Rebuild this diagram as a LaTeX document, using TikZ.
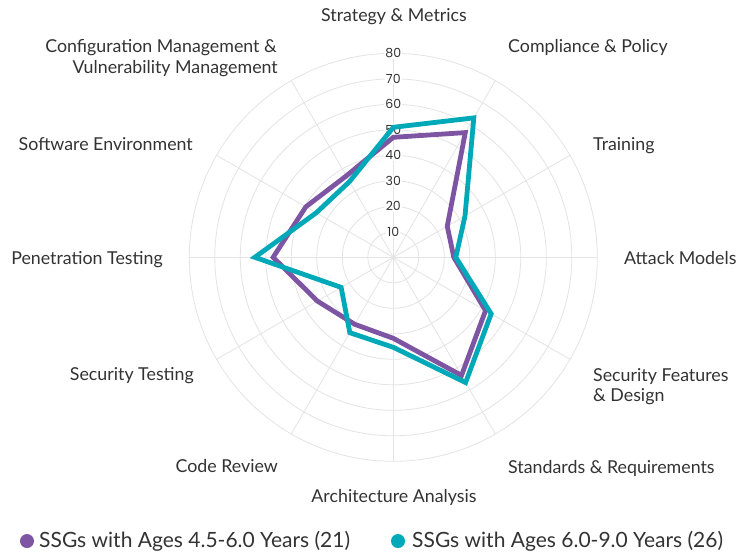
\documentclass[tikz,border=0pt]{standalone}
\usepackage{fontspec}
\setmainfont{Lato}
\newfontfamily\tickfont{Poppins}
\definecolor{gridc}{HTML}{E4E4E4}
\definecolor{purp}{HTML}{7E55A3}
\definecolor{teal}{HTML}{00A9B8}
\definecolor{txt}{HTML}{333333}
\tikzset{
  gridline/.style={draw=gridc, line width=0.8pt},
  series/.style={line width=4.8pt, line join=miter, miter limit=4},
  lab/.style={text=txt, font=\fontsize{17.8}{20}\selectfont, inner sep=0pt},
  tick/.style={text=txt, font=\tickfont\fontsize{12.5}{14}\selectfont, fill=white, inner sep=1pt},
  legtext/.style={text=txt, font=\fontsize{21}{24}\selectfont, inner sep=0pt, anchor=mid west},
}
\begin{document}
\begin{tikzpicture}[x=1pt,y=-1pt]
\useasboundingbox[fill=white] (0,0) rectangle (751,558);
\coordinate (O) at (393.3,257.3);
\begin{scope}[shift={(O)}]
  \foreach \k in {1,...,8} \draw[gridline] (0,0) circle[radius=\k*25.5];
  \foreach \a in {0,30,...,330} \draw[gridline] (0,0) -- (\a:204);
  \foreach \k in {1,...,8} {
    \pgfmathtruncatemacro{\v}{\k*10}
    \node[tick] (t\k) at (0,-\k*25.5) {\v};
  }
  % series 1 (purple)
  \draw[series, purp] (-90:120) -- (-60:144) -- (-30:62.3) -- (0:60.5) -- (30:106.5) -- (60:136.4) -- (90:81) -- (120:77.3) -- (150:87.6) -- (180:120.2) -- (210:101) -- (240:94) -- cycle;
  % series 2 (teal)
  \draw[series, teal] (-90:130) -- (-60:161) -- (-30:82.8) -- (0:62.5) -- (30:113) -- (60:144.6) -- (90:90) -- (120:87) -- (150:60.2) -- (180:138.5) -- (210:89) -- (240:87.5) -- cycle;
\end{scope}
% axis labels
\node[lab, anchor=mid] (sm) at (394,19) {Strategy \& Metrics};
\node[lab, anchor=mid west] (cp) at (508,49.5) {Compliance \& Policy};
\node[lab, anchor=mid west] (tr) at (593,147.5) {Training};
\node[lab, anchor=mid west] (am) at (624,261.5) {Attack Models};
\node[lab, anchor=mid west] (sf1) at (593,378.5) {Security Features};
\node[lab, anchor=mid west] (sf2) at (593,398.5) {\& Design};
\node[lab, anchor=mid west] (sr) at (508,470.5) {Standards \& Requirements};
\node[lab, anchor=mid] (aa) at (394,499.5) {Architecture Analysis};
\node[lab, anchor=mid east] (cr) at (278,469.5) {Code Review};
\node[lab, anchor=mid east] (st) at (194,377.5) {Security Testing};
\node[lab, anchor=mid east] (pt) at (163,261.5) {Penetration Testing};
\node[lab, anchor=mid east] (se) at (193,147.5) {Software Environment};
\node[lab, anchor=mid east] (cm1) at (277,49.5) {Configuration Management \&};
\node[lab, anchor=mid east] (cm2) at (278,70.5) {Vulnerability Management};
% legend
\fill[purp] (27,541) circle[radius=7] coordinate (d1);
\node[legtext] (l1) at (39,544.5) {SSGs with Ages 4.5-6.0 Years (21)};
\fill[teal] (398,541) circle[radius=7] coordinate (d2);
\node[legtext] (l2) at (412,544.5) {SSGs with Ages 6.0-9.0 Years (26)};
\end{tikzpicture}
\end{document}
